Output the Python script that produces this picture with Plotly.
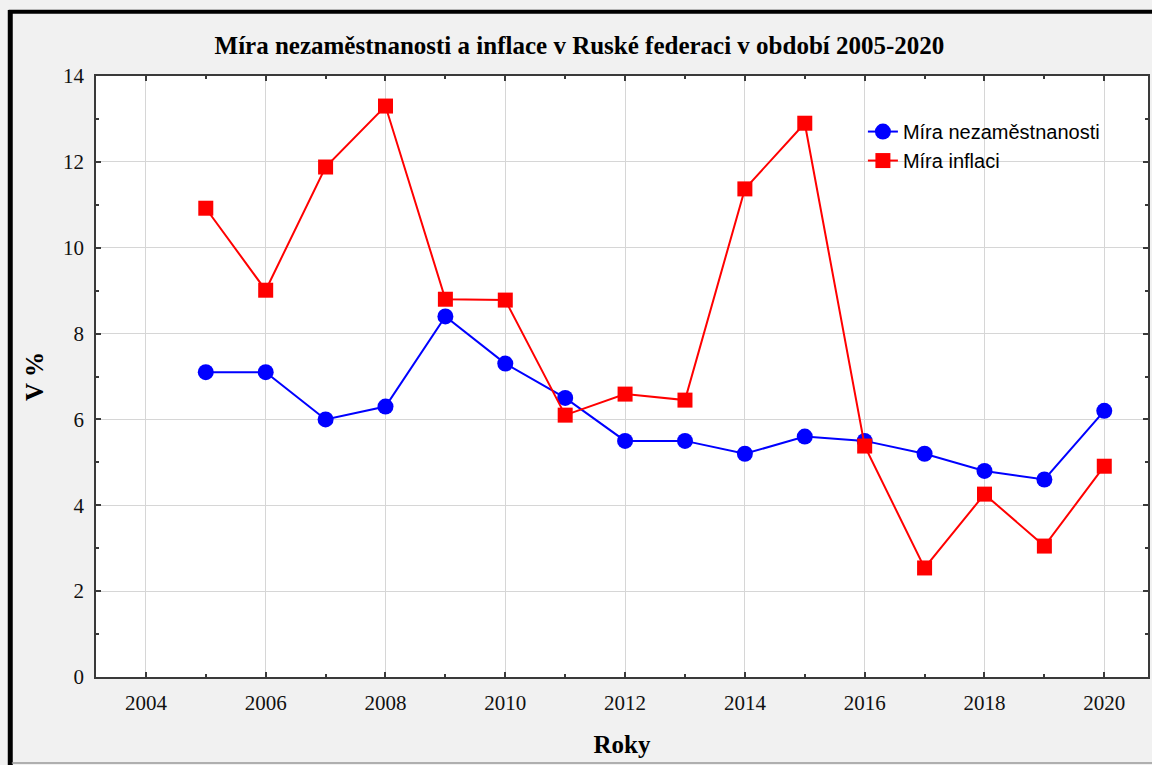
import plotly.graph_objects as go

years = list(range(2005, 2021))
nezamestnanost = [7.1, 7.1, 6.0, 6.3, 8.4, 7.3, 6.5, 5.5, 5.5, 5.2, 5.6, 5.5, 5.2, 4.8, 4.6, 6.2]
inflace = [10.92, 9.01, 11.88, 13.3, 8.8, 8.78, 6.1, 6.59, 6.45, 11.37, 12.9, 5.38, 2.54, 4.26, 3.05, 4.91]

x_ticks = [2004, 2006, 2008, 2010, 2012, 2014, 2016, 2018, 2020]
y_ticks = [0, 2, 4, 6, 8, 10, 12, 14]

SERIF = 'Liberation Serif, Times New Roman, serif'
SANS = 'Liberation Sans, Arial, sans-serif'

fig = go.Figure()
fig.add_trace(go.Scatter(
    x=years, y=nezamestnanost,
    mode='lines+markers',
    name='Míra nezaměstnanosti',
    line=dict(color='#0000ff', width=2),
    marker=dict(symbol='circle', size=16, color='#0000ff'),
))
fig.add_trace(go.Scatter(
    x=years, y=inflace,
    mode='lines+markers',
    name='Míra inflaci',
    line=dict(color='#ff0000', width=2),
    marker=dict(symbol='square', size=15, color='#ff0000'),
))

axis_common = dict(
    showline=True, linecolor='#3a3a3a', linewidth=1.5, mirror='ticks',
    ticks='inside', ticklen=5, tickcolor='#3a3a3a', tickwidth=1.5,
    showgrid=True, gridcolor='#d6d6d6', gridwidth=1,
    zeroline=False, ticklabelstandoff=6,
    tickfont=dict(family=SERIF, size=21, color='#111111'),
)

fig.update_xaxes(
    range=[2003.167, 2020.73], tickvals=x_ticks,
    minor=dict(dtick=1, tick0=2004, ticks='inside', ticklen=3, tickcolor='#3a3a3a', showgrid=False),
    title=dict(text='<b>Roky</b>', font=dict(family=SERIF, size=25, color='#000000'), standoff=22),
    **axis_common,
)
fig.update_yaxes(
    range=[0, 14], tickvals=y_ticks,
    minor=dict(dtick=1, tick0=0, ticks='inside', ticklen=3, tickcolor='#3a3a3a', showgrid=False),
    title=dict(text='<b>V %</b>', font=dict(family=SERIF, size=25, color='#000000'), standoff=12),
    **axis_common,
)

fig.update_layout(
    width=1152, height=765,
    paper_bgcolor='#f1f1f1',
    plot_bgcolor='#ffffff',
    margin=dict(l=96, r=2, t=76, b=88),
    title=dict(
        text='<b>Míra nezaměstnanosti a inflace v Ruské federaci v období 2005-2020</b>',
        font=dict(family=SERIF, size=25, color='#000000'),
        x=0.503, xanchor='center', y=0.941, yanchor='middle',
    ),
    legend=dict(
        x=0.729, y=0.94, xanchor='left', yanchor='top',
        bgcolor='rgba(0,0,0,0)', borderwidth=0,
        font=dict(family=SANS, size=20, color='#000000'),
        tracegroupgap=0, itemwidth=30,
    ),
    showlegend=True,
)

# outer frame (thick black top/left, thin gray bottom)
fig.add_shape(type='line', xref='paper', yref='paper', x0=-0.083, x1=1.05, y0=1.107, y1=1.107,
              line=dict(color='#000000', width=4))
fig.add_shape(type='line', xref='paper', yref='paper', x0=-0.0815, x1=-0.0815, y0=-0.15, y1=1.11,
              line=dict(color='#000000', width=5))
fig.add_shape(type='line', xref='paper', yref='paper', x0=-0.08, x1=1.05, y0=-0.143, y1=-0.143,
              line=dict(color='#999999', width=1.5))

fig.write_html("out.html", config={'displayModeBar': False},
               post_script="document.body.style.margin='0';")
